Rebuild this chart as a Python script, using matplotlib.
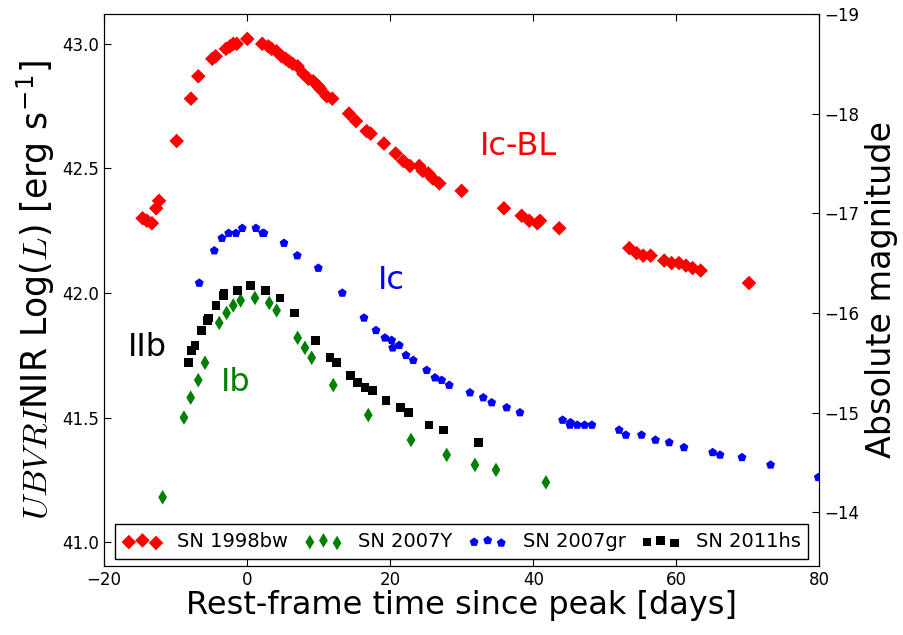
import numpy as np
import matplotlib
matplotlib.use('Agg')
import matplotlib.pyplot as plt

# SN 1998bw (Ic-BL)
t_98bw = [-14.6, -14.0, -13.3, -12.7, -12.3, -9.84, -7.84, -6.82, -4.86, -4.39,
          -2.95, -2.39, -1.93, -1.45, 0.03, 2.12, 2.96, 3.43, 4.13, 4.83,
          5.39, 5.86, 6.37, 7.07, 7.86, 8.56, 9.25, 9.96, 10.19, 11.12,
          11.91, 14.24, 15.22, 16.71, 17.27, 19.13, 20.77, 21.83, 22.77, 24.07,
          24.54, 25.33, 25.94, 26.87, 29.99, 35.9, 38.38, 39.44, 40.56, 40.94,
          43.63, 53.42, 54.44, 55.37, 56.40, 58.30, 59.33, 60.36, 61.34, 62.27,
          63.39, 70.15]
L_98bw = [42.30, 42.29, 42.28, 42.34, 42.37, 42.61, 42.78, 42.87, 42.94, 42.95,
          42.98, 42.99, 43.00, 43.00, 43.02, 43.00, 42.99, 42.98, 42.97, 42.95,
          42.94, 42.93, 42.92, 42.91, 42.88, 42.86, 42.85, 42.83, 42.82, 42.79,
          42.78, 42.72, 42.69, 42.65, 42.64, 42.60, 42.56, 42.53, 42.51, 42.51,
          42.49, 42.48, 42.46, 42.44, 42.41, 42.34, 42.31, 42.29, 42.28, 42.29,
          42.26, 42.18, 42.16, 42.15, 42.15, 42.13, 42.12, 42.12, 42.11, 42.10,
          42.09, 42.04]

# SN 2007Y (Ib)
t_07Y = [-11.8, -8.82, -7.88, -6.82, -5.88, -3.89, -2.86, -1.93, -0.90, 1.10,
         3.10, 4.13, 7.07, 8.09, 9.03, 12.05, 16.94, 22.91, 27.9, 31.85,
         34.79, 41.77]
L_07Y = [41.18, 41.50, 41.58, 41.65, 41.72, 41.88, 41.92, 41.95, 41.97, 41.98,
         41.96, 41.93, 41.82, 41.78, 41.74, 41.63, 41.51, 41.41, 41.35, 41.31,
         41.29, 41.24]

# SN 2007gr (Ic)
t_07gr = [-6.68, -4.58, -3.51, -2.57, -1.55, -0.67, 1.24, 2.18, 2.36, 5.16,
          7.02, 9.96, 13.31, 16.34, 18.02, 19.27, 20.21, 20.35, 21.27, 22.21,
          23.23, 25.10, 26.26, 27.20, 28.26, 31.15, 33.01, 34.19, 36.28, 38.14,
          44.1, 45.13, 45.2, 46.15, 47.18, 48.2, 52.0, 52.94, 55.13, 57.08,
          59.0, 61.06, 65.07, 66.1, 69.17, 73.17, 79.83]
L_07gr = [42.04, 42.17, 42.22, 42.24, 42.24, 42.26, 42.26, 42.24, 42.24, 42.20,
          42.15, 42.10, 42.00, 41.90, 41.85, 41.82, 41.81, 41.78, 41.79, 41.75,
          41.73, 41.69, 41.66, 41.65, 41.63, 41.60, 41.58, 41.56, 41.54, 41.52,
          41.49, 41.47, 41.48, 41.47, 41.47, 41.47, 41.45, 41.43, 41.43, 41.41,
          41.40, 41.38, 41.36, 41.35, 41.34, 41.31, 41.26]

# SN 2011hs (IIb)
t_11hs = [-8.21, -7.74, -7.28, -6.35, -5.56, -5.42, -4.35, -3.33, -3.23, -1.37,
          0.50, 2.60, 4.60, 6.60, 9.59, 11.59, 12.52, 14.48, 15.46, 16.48,
          17.55, 19.41, 21.46, 22.53, 25.42, 27.42, 32.31]
L_11hs = [41.72, 41.77, 41.79, 41.85, 41.89, 41.90, 41.95, 41.99, 42.00, 42.01,
          42.03, 42.01, 41.98, 41.92, 41.81, 41.74, 41.72, 41.67, 41.64, 41.62,
          41.61, 41.57, 41.54, 41.52, 41.47, 41.45, 41.40]

plt.rcParams['mathtext.fontset'] = 'custom'
plt.rcParams['mathtext.it'] = 'cmmi10'
plt.rcParams['mathtext.rm'] = 'DejaVu Sans'

fig = plt.figure(figsize=(9.04, 6.35), dpi=100)
ax = fig.add_axes([0.115, 0.109, 0.7915, 0.869])

ax.scatter(t_98bw, L_98bw, marker='D', s=55, c='r', edgecolors='none', label='SN 1998bw')
ax.scatter(t_07Y, L_07Y, marker='d', s=55, c='g', edgecolors='none', label='SN 2007Y')
ax.scatter(t_07gr, L_07gr, marker='p', s=45, c='b', edgecolors='none', label='SN 2007gr')
ax.scatter(t_11hs, L_11hs, marker='s', s=40, c='k', edgecolors='none', label='SN 2011hs')

ax.text(37.9, 42.59, 'Ic-BL', color='r', fontsize=23, ha='center', va='center')
ax.text(20.1, 42.05, 'Ic', color='b', fontsize=23, ha='center', va='center')
ax.text(-14.0, 41.78, 'IIb', color='k', fontsize=23, ha='center', va='center')
ax.text(-1.55, 41.64, 'Ib', color='g', fontsize=23, ha='center', va='center')

ylo, yhi = 40.905, 43.12
ax.set_xlim(-20, 80)
ax.set_ylim(ylo, yhi)
ax.set_yticks([41.0, 41.5, 42.0, 42.5, 43.0])
ax.set_xlabel('Rest-frame time since peak [days]', fontsize=23, labelpad=1)
ax.set_ylabel('$UBVRI$NIR Log($L$) [erg s$^{-1}$]', fontsize=25, labelpad=4)
ax.tick_params(direction='in', top=True, labelsize=12, length=5)

# absolute magnitude axis
C = 88.80
ax2 = ax.twinx()
ax2.set_ylim(C - 2.5 * ylo, C - 2.5 * yhi)
ax2.set_yticks([-19, -18, -17, -16, -15, -14])
ax2.set_ylabel('Absolute magnitude', fontsize=24, labelpad=4)
ax2.tick_params(direction='in', labelsize=12, length=5)

ax.legend(loc='lower center', ncol=4, scatterpoints=3, fontsize=14,
          fancybox=False, edgecolor='k', framealpha=1, borderaxespad=0.35,
          handletextpad=0.8, columnspacing=0.8, borderpad=0.4)

fig.savefig('out.png', dpi=100)
